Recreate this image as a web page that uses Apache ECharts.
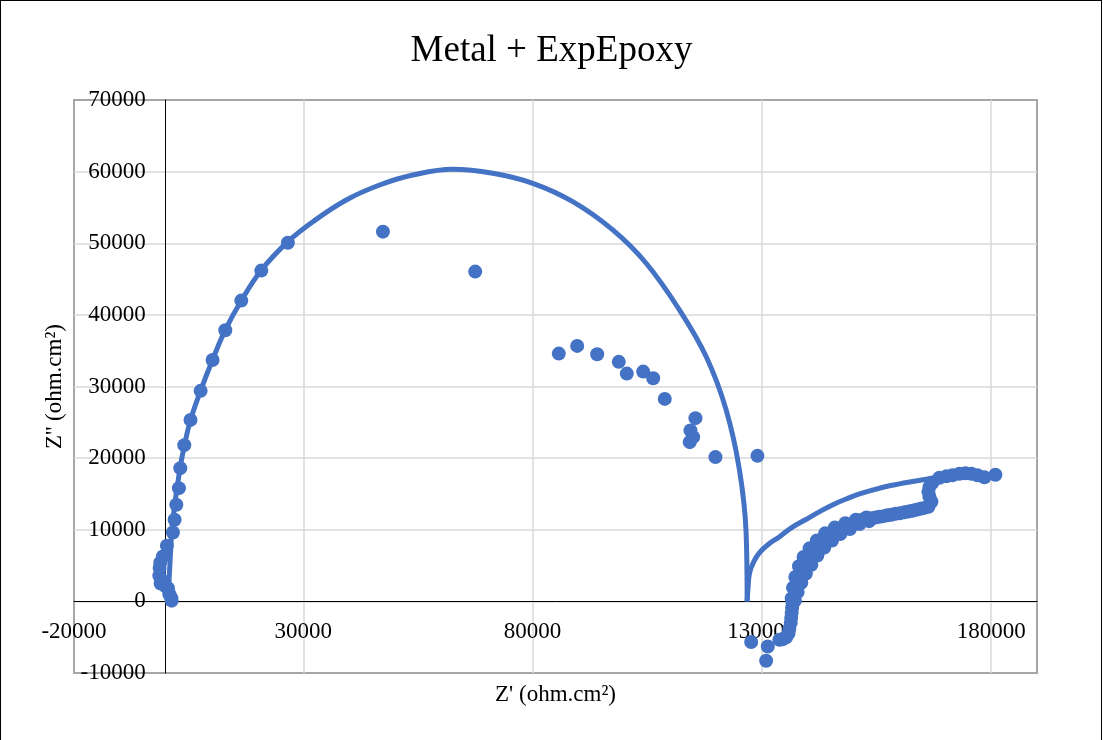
<!DOCTYPE html>
<html>
<head>
<meta charset="utf-8">
<script src="https://cdn.jsdelivr.net/npm/echarts@6/dist/echarts.min.js"></script>
<style>
html,body{margin:0;padding:0;background:#fff;overflow:hidden;}
#chart{position:absolute;left:0;top:0;width:1103px;height:740px;}
#frame{position:absolute;left:0;top:0;width:1100px;height:800px;border:1.5px solid #000;pointer-events:none;}
</style>
</head>
<body>
<div id="chart"></div>
<div id="frame"></div>
<script>
// ---- data (Z', Z'') in ohm.cm² ----
const titleText = 'Metal + ExpEpoxy';
const xAxisName = "Z' (ohm.cm²)";
const yAxisName = "Z'' (ohm.cm²)";

const pointsLeftBranch = [
  [1300,100],[1220,460],[800,1000],[480,1850],[0,2100],[-1100,2500],[-960,3010],[-1400,3600],
  [-1330,4650],[-1200,5400],[-610,6270],[260,7760],[1570,9620],[1940,11390],[2310,13480],
  [2880,15810],[3180,18600],[4050,21810],[5410,25340],[7610,29390],[10220,33710],
  [12990,37860],[16480,41990],[20840,46180],[26640,50080]
];
const pointsMiddle = [
  [47370,51620],[67490,46040],[85720,34590],[89730,35670],[94090,34510],[98800,33440],
  [100550,31800],[104120,32080],[106300,31160],[108830,28270],[115520,25580],[114430,23850],
  [115020,22930],[114280,22230],[119880,20140],[129040,20320]
];
const pointsLowFreqNeg = [
  [127670,-5680],[130930,-8290],[131290,-6290],[133830,-5360],[134500,-5300],[135300,-5000],
  [135800,-4500],[136000,-3800],[136300,-3000],[136400,-2300],[136500,-1600],[136600,-900],
  [136700,-300]
];
const pointsBandUpper = [
  [136500,400],[136800,1900],[137300,3400],[138100,4900],[139100,6200],[140400,7400],
  [142000,8500],[143800,9500],[145900,10300],[148200,10900],[150500,11400],[152800,11700]
];
const pointsBandCenter = [
  [136890,220],[137320,1620],[137980,3010],[138850,4410],[139940,5670],[141250,6920],
  [142770,8040],[144510,9020],[146480,9850],[148660,10550],[150840,11110],[153020,11460]
];
const pointsBandLower = [
  [137200,100],[137800,1300],[138600,2600],[139600,3900],[140800,5100],[142100,6400],
  [143600,7500],[145300,8500],[147100,9400],[149200,10100],[151300,10800],[153400,11200]
];
const pointsTail = [
  [151930,11390],[152900,11500],[153890,11600],[154800,11700],[155640,11810],[156500,11900],
  [157380,12020],[158200,12100],[159130,12220],[160100,12300],[161090,12430],[162000,12550],
  [162830,12640],[163700,12800],[164580,12920],[165400,13050],[166320,13200],[166980,13900],
  [166540,14600],[166320,15290],[166540,15990],[167190,16550],[168720,17250],[170250,17460],
  [171560,17600],[173080,17810],[174390,17880],[175700,17810],[177010,17600],[178530,17320],
  [180930,17670]
];

const fitArc1 = [
  [500,0],[900,5000],[1500,11000],[3100,18500],[4100,21800],[5400,25300],[7600,29400],
  [10200,33700],[13000,37900],[16500,42000],[20800,46200],[26640,50220],[32090,53010],
  [39370,56040],[46630,58130],[53890,59530],[62610,60330],[71330,59770],[80050,58370],
  [88770,55810],[97490,51860],[104770,47210],[112030,40690],[117850,34180],[122210,26740],
  [125110,18360],[126570,9530],[126790,0]
];
const fitArc2 = [
  [126790,0],[127000,2000],[127300,3900],[128200,5500],[129500,6800],[131500,8000],
  [133800,9000],[136500,10300],[139500,11400],[142500,12500],[145500,13500],[148400,14300],
  [151300,15000],[154200,15550],[157100,16030],[160000,16400],[162900,16730],[165500,17020],
  [168000,17300],[171000,17500]
];

const xMin = -20000, xMax = 190000, xStep = 50000;
const yMin = -10000, yMax = 70000, yStep = 10000;

const blue = '#4472C4';
const serif = '"Liberation Serif","Times New Roman",serif';

const gridLeft = 74, gridTop = 100, gridW = 963, gridH = 573;
// move both axes so they cross at (0,0), as in the reference
const xAxisOffset = -((0 - yMin) / (yMax - yMin)) * gridH;
const yAxisOffset = -((0 - xMin) / (xMax - xMin)) * gridW;

const allPoints = [].concat(pointsLeftBranch, pointsMiddle, pointsLowFreqNeg,
  pointsBandUpper, pointsBandCenter, pointsBandLower, pointsTail);

const plain = v => String(v);

const chart = echarts.init(document.getElementById('chart'), null, {renderer:'canvas'});
chart.setOption({
  animation: false,
  backgroundColor: '#fff',
  title: {
    text: titleText, left: 'center', top: 28,
    textStyle: {fontFamily: serif, fontSize: 37, fontWeight: 'normal', color: '#000'}
  },
  grid: {left: gridLeft, top: gridTop, width: gridW, height: gridH, show: true,
         borderColor: '#a6a6a6', borderWidth: 2, containLabel: false, outerBoundsMode: 'none'},
  xAxis: {
    type: 'value', min: xMin, max: xMax, interval: xStep, offset: xAxisOffset,
    name: xAxisName, nameLocation: 'middle', nameGap: 82,
    nameTextStyle: {fontFamily: serif, fontSize: 23, color: '#000'},
    axisLine: {onZero: false, lineStyle: {color: '#000', width: 1}},
    axisTick: {show: false},
    axisLabel: {fontFamily: serif, fontSize: 23, color: '#000', margin: 19,
                showMaxLabel: false, formatter: plain},
    splitLine: {show: true, showMinLine: false, showMaxLine: false,
                lineStyle: {color: '#d9d9d9', width: 1.5}}
  },
  yAxis: {
    type: 'value', min: yMin, max: yMax, interval: yStep, offset: yAxisOffset,
    name: yAxisName, nameLocation: 'middle', nameGap: 99,
    nameTextStyle: {fontFamily: serif, fontSize: 23, color: '#000'},
    axisLine: {onZero: false, lineStyle: {color: '#000', width: 1}},
    axisTick: {show: false},
    axisLabel: {fontFamily: serif, fontSize: 23, color: '#000', margin: 20, formatter: plain},
    splitLine: {show: true, showMinLine: false, showMaxLine: false,
                lineStyle: {color: '#d9d9d9', width: 1.5}}
  },
  series: [
    {type: 'line', data: fitArc1, smooth: 0.4, showSymbol: false, symbol: 'none',
     lineStyle: {color: blue, width: 5}, z: 3},
    {type: 'line', data: fitArc2, smooth: 0.4, showSymbol: false, symbol: 'none',
     lineStyle: {color: blue, width: 5}, z: 3},
    {type: 'scatter', data: allPoints, symbol: 'circle', symbolSize: 14,
     itemStyle: {color: blue, opacity: 1}, z: 4}
  ]
});
</script>
</body>
</html>
